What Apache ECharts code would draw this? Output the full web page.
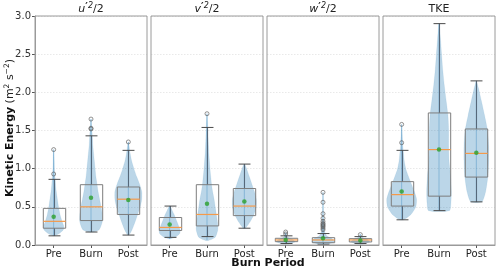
<!DOCTYPE html>
<html><head><meta charset="utf-8">
<script src="https://cdn.jsdelivr.net/npm/echarts@6/dist/echarts.min.js"></script>
<style>html,body{margin:0;padding:0;background:#fff}#c{width:500px;height:271px}</style>
</head><body><div id="c"></div>
<script>
// ---------- data ----------
const categories = ['Pre', 'Burn', 'Post'];
const yMin = 0, yMax = 3.0, yInterval = 0.5;

// box stats: [whiskerLow, Q1, median, Q3, whiskerHigh]
const uBox   = [[0.12, 0.22, 0.31, 0.48, 0.86], [0.17, 0.32, 0.50, 0.79, 1.43], [0.13, 0.40, 0.60, 0.76, 1.24]];
const vBox   = [[0.10, 0.19, 0.23, 0.36, 0.51], [0.11, 0.25, 0.40, 0.79, 1.54], [0.22, 0.385, 0.51, 0.74, 1.06]];
const wBox   = [[0.02, 0.044, 0.066, 0.088, 0.12], [0.01, 0.03, 0.066, 0.096, 0.15], [0.02, 0.04, 0.066, 0.083, 0.11]];
const tkeBox = [[0.33, 0.51, 0.66, 0.83, 1.24], [0.45, 0.64, 1.25, 1.73, 2.90], [0.565, 0.89, 1.20, 1.52, 2.15]];

const uMean   = [0.37, 0.62, 0.59];
const vMean   = [0.27, 0.54, 0.57];
const wMean   = [0.066, 0.09, 0.06];
const tkeMean = [0.70, 1.25, 1.21];

// outliers: [categoryIndex, value]
const uOutliers   = [[0, 0.93], [0, 1.25], [1, 1.52], [1, 1.53], [1, 1.65], [2, 1.35]];
const vOutliers   = [[1, 1.72]];
const wOutliers   = [[0, 0.145], [0, 0.17], [1, 0.20], [1, 0.22], [1, 0.24], [1, 0.255], [1, 0.27], [1, 0.285], [1, 0.31], [1, 0.35], [1, 0.41], [1, 0.56], [1, 0.69], [2, 0.136]];
const tkeOutliers = [[0, 1.34], [0, 1.58]];

// violin profiles: [value, half-width in category units]
const uViolin = [
  [[0.12,0.02],[0.15,0.15],[0.2,0.26],[0.25,0.27],[0.3,0.23],[0.4,0.17],[0.5,0.13],[0.6,0.1],[0.7,0.07],[0.8,0.05],[0.9,0.035],[1.0,0.02],[1.1,0.015],[1.25,0.004]],
  [[0.17,0.05],[0.2,0.22],[0.3,0.3],[0.4,0.3],[0.5,0.27],[0.6,0.23],[0.7,0.19],[0.8,0.16],[0.9,0.13],[1.0,0.11],[1.1,0.09],[1.2,0.07],[1.3,0.05],[1.4,0.04],[1.5,0.025],[1.65,0.004]],
  [[0.13,0.02],[0.2,0.1],[0.3,0.18],[0.4,0.25],[0.5,0.32],[0.6,0.36],[0.7,0.36],[0.8,0.3],[0.9,0.22],[1.0,0.15],[1.1,0.09],[1.2,0.05],[1.35,0.004]]
];
const vViolin = [
  [[0.08,0.02],[0.1,0.15],[0.15,0.27],[0.2,0.28],[0.25,0.24],[0.3,0.2],[0.35,0.16],[0.4,0.12],[0.45,0.07],[0.51,0.01]],
  [[0.06,0.05],[0.1,0.22],[0.2,0.29],[0.3,0.28],[0.4,0.25],[0.5,0.22],[0.6,0.19],[0.7,0.15],[0.8,0.12],[0.9,0.1],[1.0,0.08],[1.1,0.065],[1.2,0.05],[1.3,0.04],[1.4,0.03],[1.55,0.02],[1.72,0.004]],
  [[0.22,0.03],[0.3,0.15],[0.4,0.26],[0.5,0.32],[0.6,0.32],[0.7,0.27],[0.8,0.2],[0.9,0.13],[1.0,0.06],[1.06,0.01]]
];
const wViolin = [
  [[0.01,0.05],[0.04,0.25],[0.07,0.2],[0.1,0.05],[0.16,0.01]],
  [[0.01,0.1],[0.04,0.3],[0.08,0.25],[0.12,0.1],[0.2,0.03],[0.35,0.01],[0.69,0.003]],
  [[0.01,0.05],[0.04,0.25],[0.07,0.2],[0.1,0.05],[0.14,0.01]]
];
const tkeViolin = [
  [[0.33,0.05],[0.4,0.25],[0.5,0.38],[0.6,0.4],[0.7,0.34],[0.8,0.26],[0.9,0.18],[1.0,0.11],[1.1,0.07],[1.2,0.05],[1.3,0.03],[1.45,0.015],[1.58,0.003]],
  [[0.45,0.28],[0.55,0.32],[0.7,0.33],[0.9,0.31],[1.1,0.27],[1.3,0.26],[1.5,0.26],[1.7,0.24],[1.9,0.19],[2.1,0.14],[2.3,0.1],[2.5,0.07],[2.7,0.04],[2.9,0.004]],
  [[0.565,0.15],[0.7,0.25],[0.9,0.31],[1.1,0.33],[1.3,0.33],[1.5,0.3],[1.7,0.22],[1.9,0.13],[2.05,0.06],[2.15,0.004]]
];

const panelTitles = ['{i|u}{p|\u2032}{s|2}{n|/2}', '{i|v}{p|\u2032}{s|2}{n|/2}', '{i|w}{p|\u2032}{s|2}{n|/2}', '{n|TKE}'];
const yAxisTitle = '{b|Kinetic Energy} {n|(m}{s|2}{n| s}{s|−2}{n|)}';
const xAxisTitle = 'Burn Period';

// ---------- layout / style ----------
const panels = [
  {box: uBox, mean: uMean, out: uOutliers, vio: uViolin},
  {box: vBox, mean: vMean, out: vOutliers, vio: vViolin},
  {box: wBox, mean: wMean, out: wOutliers, vio: wViolin},
  {box: tkeBox, mean: tkeMean, out: tkeOutliers, vio: tkeViolin}
];
const gridLeft = [35, 151, 267, 383], gridW = 112, gridTop = 16, gridH = 229;
const FONT = 'DejaVu Sans';
const violinFill = 'rgba(31,119,180,0.3)';
const boxColor = '#7d7d7d', whiskerColor = '#56687a', capColor = '#4a4a4a', medianColor = '#f59a4a';

function violinRender(vio) {
  return function (params, api) {
    const i = api.value(0);
    const prof = vio[i];
    const band = api.size([1, 0])[0];
    const right = prof.map(([v, w]) => { const c = api.coord([i, v]); return [c[0] + w * band, c[1]]; });
    const left = prof.slice().reverse().map(([v, w]) => { const c = api.coord([i, v]); return [c[0] - w * band, c[1]]; });
    const cx = api.coord([i, prof[0][0]])[0];
    const y0 = api.coord([i, prof[0][0]])[1], y1 = api.coord([i, prof[prof.length - 1][0]])[1];
    return {type: 'group', children: [
      {type: 'polygon', shape: {points: right.concat(left), smooth: 0.2},
       style: {fill: violinFill, stroke: 'rgba(31,119,180,0.15)', lineWidth: 0.5}},
      {type: 'line', shape: {x1: cx, y1: y0, x2: cx, y2: y1}, style: {stroke: 'rgba(31,119,180,0.35)', lineWidth: 1}}
    ]};
  };
}
function boxRender(box) {
  return function (params, api) {
    const i = api.value(0);
    const s = box[i];
    const band = api.size([1, 0])[0];
    const hw = band * 0.3, cw = band * 0.16;
    const x = Math.round(api.coord([i, s[0]])[0]) + 0.5;
    const y = s.map(v => api.coord([i, v])[1]);
    const L = (x1, y1, x2, y2, c, w) => ({type: 'line', shape: {x1, y1, x2, y2}, style: {stroke: c, lineWidth: w || 1}});
    return {type: 'group', children: [
      L(x, y[0], x, y[1], whiskerColor, 1.1),
      L(x, y[3], x, y[4], whiskerColor, 1.1),
      L(x - cw, y[0], x + cw, y[0], capColor, 1),
      L(x - cw, y[4], x + cw, y[4], capColor, 1),
      {type: 'rect', shape: {x: x - hw, y: y[3], width: 2 * hw, height: y[1] - y[3]},
       style: {fill: 'none', stroke: boxColor, lineWidth: 1}},
      L(x - hw, y[2], x + hw, y[2], medianColor, 1.2)
    ]};
  };
}

const option = {
  animation: false,
  grid: gridLeft.map(l => ({left: l, top: gridTop, width: gridW, height: gridH, show: true,
    borderColor: '#9a9a9a', borderWidth: 1, backgroundColor: 'transparent', z: 5})),
  xAxis: gridLeft.map((l, k) => ({type: 'category', gridIndex: k, data: categories,
    axisLine: {show: true, lineStyle: {color: '#9a9a9a'}},
    axisTick: {show: true, alignWithLabel: true, length: 3, lineStyle: {color: '#555'}},
    axisLabel: {fontFamily: FONT, fontSize: 10, color: '#222', margin: 4},
    splitLine: {show: false}})),
  yAxis: gridLeft.map((l, k) => ({type: 'value', gridIndex: k, min: yMin, max: yMax, interval: yInterval,
    axisLine: {show: k === 0, lineStyle: {color: '#9a9a9a'}},
    axisTick: {show: k === 0, length: 3, lineStyle: {color: '#555'}},
    axisLabel: {show: k === 0, fontFamily: FONT, fontSize: 10, color: '#333', margin: 4,
      formatter: v => v.toFixed(1)},
    splitLine: {show: true, lineStyle: {color: '#e3e3e3', type: [1.5, 1.5], width: 0.8}}})),
  series: [],
  graphic: []
};

panels.forEach((p, k) => {
  const d = categories.map((c, i) => [i, p.box[i][2]]);
  option.series.push({type: 'custom', xAxisIndex: k, yAxisIndex: k, data: d, renderItem: violinRender(p.vio), z: 2, silent: true});
  option.series.push({type: 'custom', xAxisIndex: k, yAxisIndex: k, data: d, renderItem: boxRender(p.box), z: 3, silent: true});
  option.series.push({type: 'scatter', xAxisIndex: k, yAxisIndex: k, data: p.out, symbol: 'circle', symbolSize: 4,
    itemStyle: {color: 'rgba(255,255,255,0)', borderColor: '#555', borderWidth: 0.8}, z: 4, silent: true});
  option.series.push({type: 'scatter', xAxisIndex: k, yAxisIndex: k, data: p.mean.map((m, i) => [i, m]),
    symbol: 'circle', symbolSize: 4.5, itemStyle: {color: '#2ca02c'}, z: 6, silent: true});
  option.graphic.push({type: 'text', x: gridLeft[k] + gridW / 2, y: 9, z: 10,
    style: {text: panelTitles[k], align: 'center', verticalAlign: 'middle',
      rich: {
        i: {fontFamily: FONT, fontStyle: 'italic', fontSize: 11, fill: '#222', lineHeight: 14},
        n: {fontFamily: FONT, fontSize: 11, fill: '#222', lineHeight: 14},
        p: {fontFamily: FONT, fontSize: 10, fontWeight: 'bold', fill: '#222', verticalAlign: 'top', lineHeight: 14},
        s: {fontFamily: FONT, fontStyle: 'italic', fontSize: 8, fill: '#222', verticalAlign: 'top', lineHeight: 14}
      }}});
});
option.graphic.push({type: 'text', x: 10, y: 128, rotation: Math.PI / 2, z: 10,
  style: {text: yAxisTitle, align: 'center', verticalAlign: 'middle',
    rich: {
      b: {fontFamily: FONT, fontWeight: 'bold', fontSize: 11, fill: '#111', lineHeight: 14},
      n: {fontFamily: FONT, fontSize: 11, fill: '#222', lineHeight: 14},
      s: {fontFamily: FONT, fontSize: 7.5, fill: '#222', verticalAlign: 'top', lineHeight: 14}
    }}});
option.graphic.push({type: 'text', x: 268, y: 263, z: 10,
  style: {text: xAxisTitle, align: 'center', verticalAlign: 'middle',
    fontFamily: FONT, fontWeight: 'bold', fontSize: 11, fill: '#111'}});

const chart = echarts.init(document.getElementById('c'), null, {renderer: 'canvas'});
chart.setOption(option);
</script>
</body></html>
